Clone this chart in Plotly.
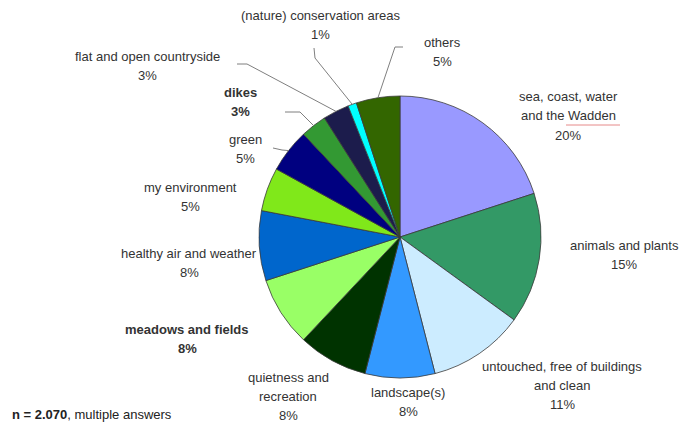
import math
import plotly.graph_objects as go

# ---------------- data ----------------
categories = [
    "sea, coast, water and the Wadden",
    "animals and plants",
    "untouched, free of buildings and clean",
    "landscape(s)",
    "quietness and recreation",
    "meadows and fields",
    "healthy air and weather",
    "my environment",
    "green",
    "dikes",
    "flat and open countryside",
    "(nature) conservation areas",
    "others",
]
shares = [20, 15, 11, 8, 8, 8, 8, 5, 5, 3, 3, 1, 5]
label_lines = [
    ["sea, coast, water", "and the Wadden"],
    ["animals and plants"],
    ["untouched, free of buildings", "and clean"],
    ["landscape(s)"],
    ["quietness and", "recreation"],
    ["meadows and fields"],
    ["healthy air and weather"],
    ["my environment"],
    ["green"],
    ["dikes"],
    ["flat and open countryside"],
    ["(nature) conservation areas"],
    ["others"],
]
bold_labels = ["meadows and fields", "dikes"]
colors = ["#9999FF", "#339966", "#CCECFF", "#3399FF", "#003300", "#99FF66",
          "#0066CC", "#80E81A", "#000080", "#339933", "#1C1C4C", "#00FFFF", "#336600"]
footnote_bold = "n = 2.070"
footnote_rest = ", multiple answers"

# ---------------- layout ----------------
W, H = 688, 434
CX, CY, R = 400, 237, 141
LINE = 19
FONT = dict(family="Liberation Sans, Arial, sans-serif", size=13, color="#333333")

# label centre positions in pixels (x, y-centre of block)
label_pos = {
    "sea, coast, water and the Wadden": (568, 116),
    "animals and plants": (624, 255),
    "untouched, free of buildings and clean": (562, 385),
    "landscape(s)": (408, 402),
    "quietness and recreation": (288, 396),
    "meadows and fields": (187, 339),
    "healthy air and weather": (189, 263),
    "my environment": (190, 197),
    "green": (245, 149),
    "dikes": (240, 102),
    "flat and open countryside": (147, 66),
    "(nature) conservation areas": (320, 25),
    "others": (442, 52),
}
# leader line start/elbow points in pixels
leaders = {
    "green": [(273, 148), (282, 150)],
    "dikes": [(285, 112), (300, 112)],
    "flat and open countryside": [(237, 64), (247, 64)],
    "(nature) conservation areas": [(314, 48), (315, 58)],
    "others": [(403, 47), (395, 47)],
}

def px(x):
    return x / W

def py(y):
    return 1 - y / H

fig = go.Figure(go.Pie(
    labels=categories,
    values=shares,
    sort=False,
    direction="clockwise",
    rotation=0,
    marker=dict(colors=colors, line=dict(color="#3a3a3a", width=0.8)),
    textinfo="none",
    hoverinfo="label+percent",
    showlegend=False,
    domain=dict(x=[px(CX - R), px(CX + R)], y=[py(CY + R), py(CY - R)]),
))

annotations = []
shapes = []
total = sum(shares)
cum = 0
for cat, lines, v in zip(categories, label_lines, shares):
    mid = (cum + v / 2) / total * 2 * math.pi
    cum += v
    pct = f"{round(v / total * 100)}%"
    all_lines = list(lines) + [pct]
    n = len(all_lines)
    x, yc = label_pos[cat]
    for i, ln in enumerate(all_lines):
        txt = f"<b>{ln}</b>" if cat in bold_labels else ln
        yy = yc + (i - (n - 1) / 2) * LINE
        annotations.append(dict(
            x=px(x), y=py(yy), xref="paper", yref="paper", text=txt,
            showarrow=False, xanchor="center", yanchor="middle", align="center",
            font=FONT,
        ))
    if cat in leaders:
        ex = CX + R * math.sin(mid)
        ey = CY - R * math.cos(mid)
        pts = leaders[cat] + [(ex, ey)]
        path = "M " + " L ".join(f"{px(a)},{py(b)}" for a, b in pts)
        shapes.append(dict(type="path", xref="paper", yref="paper", path=path,
                           line=dict(color="#7f7f7f", width=1)))

# spell-check style underline under "Wadden"
shapes.append(dict(type="line", xref="paper", yref="paper",
                   x0=px(566), x1=px(620), y0=py(125), y1=py(125),
                   line=dict(color="rgba(220,90,90,0.7)", width=1)))

annotations.append(dict(
    x=px(10), y=py(414), xref="paper", yref="paper",
    text=f"<b>{footnote_bold}</b>{footnote_rest}", showarrow=False,
    xanchor="left", yanchor="middle",
    font=dict(family="Liberation Sans, Arial, sans-serif", size=13, color="#222222"),
))

fig.update_layout(
    width=W, height=H,
    margin=dict(l=0, r=0, t=0, b=0),
    paper_bgcolor="white", plot_bgcolor="white",
    annotations=annotations, shapes=shapes,
)

fig.write_html("out.html")
